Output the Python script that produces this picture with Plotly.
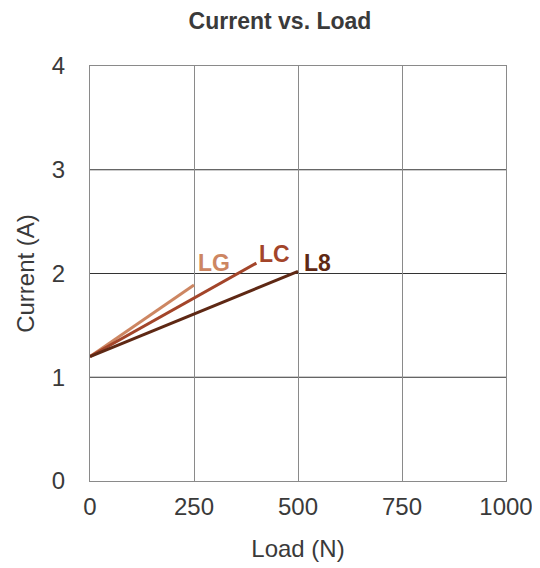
import plotly.graph_objects as go

series_names = ["LG", "LC", "L8"]
series_x = [[0, 250], [0, 400], [0, 500]]
series_y = [[1.2, 1.89], [1.2, 2.1], [1.2, 2.02]]
colors = ["#cd8662", "#a3452a", "#5e2814"]
x_ticks = [0, 250, 500, 750, 1000]
y_ticks = [0, 1, 2, 3, 4]
label_shift = [(2, 22), (1, 9), (4, 8)]

FONT = "Liberation Sans, Arial, sans-serif"
TXT = "#3a3a3a"

fig = go.Figure()
for name, xs, ys, c in zip(series_names, series_x, series_y, colors):
    fig.add_trace(go.Scatter(x=xs, y=ys, mode="lines", name=name,
                             line=dict(color=c, width=3), showlegend=False))

for name, xs, ys, c, (dx, dy) in zip(series_names, series_x, series_y, colors, label_shift):
    fig.add_annotation(x=xs[-1], y=ys[-1], xref="x", yref="y", text="<b>%s</b>" % name,
                       showarrow=False, xanchor="left", yanchor="middle",
                       xshift=dx, yshift=dy, font=dict(family=FONT, size=23, color=c))

for yv in y_ticks[1:-1]:
    fig.add_shape(type="line", xref="paper", yref="y", x0=0, x1=1, y0=yv, y1=yv,
                  line=dict(color="#333333", width=1), layer="below")

fig.update_layout(
    width=540, height=568,
    margin=dict(l=82, r=42, t=58, b=95),
    paper_bgcolor="white", plot_bgcolor="white",
    font=dict(family=FONT, size=24, color=TXT),
    title=dict(text="<b>Current vs. Load</b>", x=272/540, xref="container", xanchor="center",
               y=1-13/568, yref="container", yanchor="middle",
               font=dict(family=FONT, size=23, color=TXT)),
)
fig.update_xaxes(range=[0, 1000], tickvals=x_ticks, showgrid=True, gridcolor="#8a8a8a", gridwidth=1,
                 zeroline=False, showline=True, linecolor="#8a8a8a", linewidth=1, mirror=True,
                 ticks="", ticklabelstandoff=4,
                 title=dict(text="Load (N)", standoff=21, font=dict(size=24, color=TXT)),
                 tickfont=dict(size=24, color=TXT))
fig.update_yaxes(range=[0, 4], tickvals=y_ticks, showgrid=False,
                 zeroline=False, showline=True, linecolor="#8a8a8a", linewidth=1, mirror=True,
                 ticks="", ticklabelstandoff=19,
                 title=dict(text="Current (A)", standoff=10, font=dict(size=24, color=TXT)),
                 tickfont=dict(size=24, color=TXT))

fig.write_html("out.html")
